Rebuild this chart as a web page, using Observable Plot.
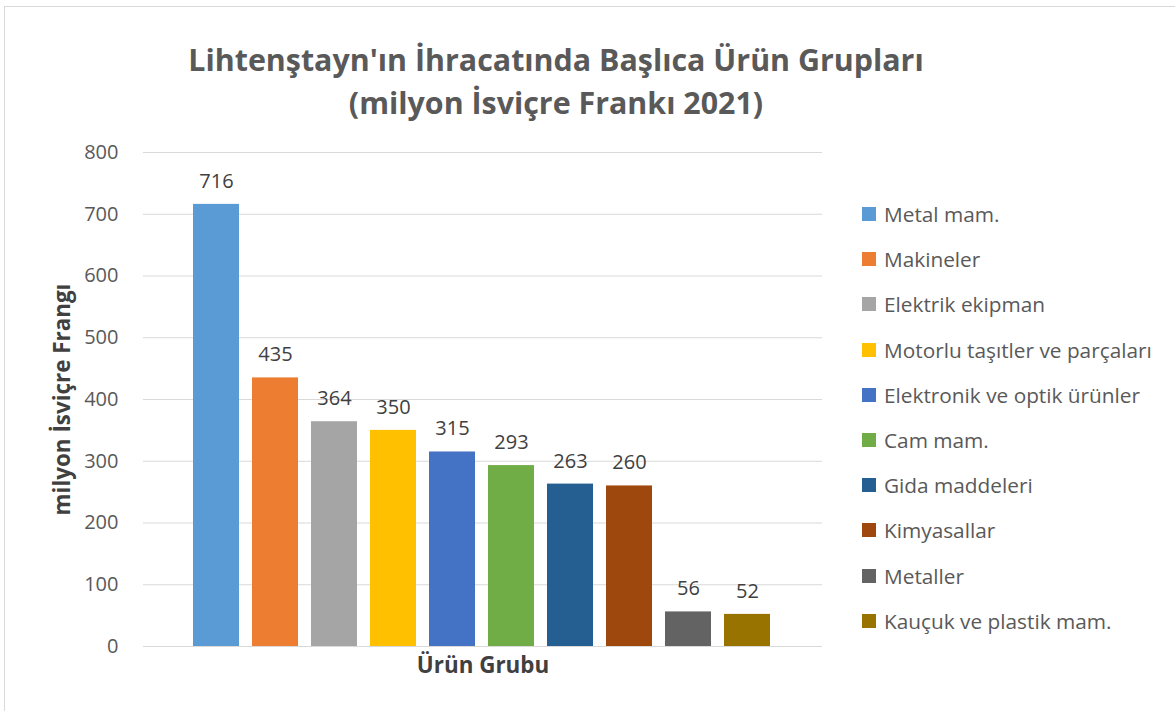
<!DOCTYPE html>
<html>
<head>
<meta charset="utf-8">
<script src="https://cdn.jsdelivr.net/npm/d3@7"></script>
<script src="https://cdn.jsdelivr.net/npm/@observablehq/plot@0.6"></script>
<style>
  html, body { margin: 0; padding: 0; background: #fff; }
  #wrap { position: relative; width: 1175px; height: 711px; overflow: hidden; font-family: "Open Sans", Lato, sans-serif; }
  #border { position: absolute; left: 4px; top: 6px; width: 1190px; height: 720px; border: 1px solid #d9d9d9; box-sizing: border-box; }
  #title { position: absolute; left: 0; top: 38px; width: 1112px; text-align: center; font-weight: bold; font-size: 30.4px; line-height: 43px; color: #595959; }
  #chart { position: absolute; left: 0; top: 0; }
  #legend { position: absolute; left: 862px; top: 200px; color: #595959; font-size: 20.8px; }
  .item { height: 45.2px; line-height: 28px; display: flex; align-items: flex-start; white-space: nowrap; }
  .sw { width: 14px; height: 14px; margin-top: 7px; margin-right: 8px; flex: none; }
</style>
</head>
<body>
<div id="wrap">
  <div id="border"></div>
  <div id="title">Lihtenştayn'ın İhracatında Başlıca Ürün Grupları<br>(milyon İsviçre Frankı 2021)</div>
  <div id="chart"></div>
  <div id="legend"></div>
</div>
<script>
const categories = ["Metal mam.", "Makineler", "Elektrik ekipman", "Motorlu taşıtler ve parçaları", "Elektronik ve optik ürünler", "Cam mam.", "Gida maddeleri", "Kimyasallar", "Metaller", "Kauçuk ve plastik mam."];
const values = [716, 435, 364, 350, 315, 293, 263, 260, 56, 52];
const colors = ["#5B9BD5", "#ED7D31", "#A5A5A5", "#FFC000", "#4472C4", "#70AD47", "#255E91", "#9E480E", "#636363", "#997300"];
const yTicks = [0, 100, 200, 300, 400, 500, 600, 700, 800];
const xTitle = "Ürün Grubu";
const yTitle = "milyon İsviçre Frangı";

const data = categories.map((c, i) => ({category: c, value: values[i]}));

const chart = Plot.plot({
  width: 1175,
  height: 711,
  marginTop: 152,
  marginBottom: 65,
  marginLeft: 143,
  marginRight: 353,
  style: {fontFamily: "'Open Sans', Lato, sans-serif", fontSize: "20px", color: "#595959", background: "transparent"},
  x: {domain: categories, padding: 0.22, paddingOuter: 0.11, insetLeft: 43, insetRight: 44, axis: null},
  y: {domain: [0, 800]},
  color: {domain: categories, range: colors},
  marks: [
    Plot.gridY(yTicks, {stroke: "#d9d9d9", strokeOpacity: 1, strokeWidth: 1}),
    Plot.axisY(yTicks, {tickSize: 0, tickPadding: 25, fill: "#595959", fontSize: 20, label: null}),
    Plot.barY(data, {x: "category", y: "value", fill: "category"}),
    Plot.text(data, {x: "category", y: "value", text: d => String(d.value), dy: -23, fill: "#404040", fontSize: 20}),
    Plot.text([yTitle], {frameAnchor: "left", textAnchor: "middle", dx: -81, rotate: -90, fontWeight: "bold", fill: "#404040", fontSize: 22.4}),
    Plot.text([xTitle], {frameAnchor: "bottom", dy: 26, fontWeight: "bold", fill: "#404040", fontSize: 22.4})
  ]
});
document.getElementById("chart").appendChild(chart);

const legend = document.getElementById("legend");
categories.forEach((c, i) => {
  const item = document.createElement("div");
  item.className = "item";
  const sw = document.createElement("span");
  sw.className = "sw";
  sw.style.background = colors[i];
  const t = document.createElement("span");
  t.textContent = c;
  item.appendChild(sw);
  item.appendChild(t);
  legend.appendChild(item);
});
</script>
</body>
</html>
